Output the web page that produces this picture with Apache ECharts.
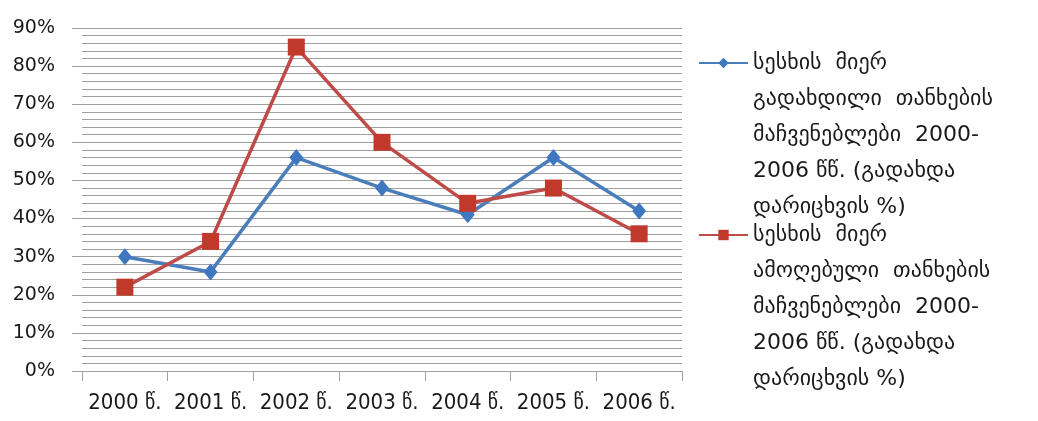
<!DOCTYPE html>
<html>
<head>
<meta charset="utf-8">
<script src="https://cdn.jsdelivr.net/npm/echarts@6/dist/echarts.min.js"></script>
<style>
  html, body { margin: 0; padding: 0; background: #fff; }
  #chart { width: 1038px; height: 421px; }
</style>
</head>
<body>
<div id="chart"></div>
<script>
// Years on the category axis
const years = ['2000 წ.', '2001 წ.', '2002 წ.', '2003 წ.', '2004 წ.', '2005 წ.', '2006 წ.'];

// Series names (legend text, wrapped line by line)
const paidName = 'სესხის  მიერ\nგადახდილი  თანხების\nმაჩვენებლები  2000-\n2006 წწ. (გადახდა\nდარიცხვის %)';
const collectedName = 'სესხის  მიერ\nამოღებული  თანხების\nმაჩვენებლები  2000-\n2006 წწ. (გადახდა\nდარიცხვის %)';

// Values, percent
const paidValues = [30, 26, 56, 48, 41, 56, 42];
const collectedValues = [22, 34, 85, 60, 44, 48, 36];

// Y axis range, percent
const yMin = 0, yMax = 90, yStep = 10;

const GRID_GRAY = '#a0a0a0';
const LEGEND_LINE = 36;
const LEGEND_ROWS = 9; // 4 blank rows + 5 text rows, so the icon sits beside row 1

const chart = echarts.init(document.getElementById('chart'), null, { renderer: 'canvas' });

chart.setOption({
  animation: false,
  backgroundColor: '#ffffff',
  grid: { left: 82, right: 356, top: 28, bottom: 50, containLabel: false, outerBoundsMode: 'none' },
  legend: {
    orient: 'vertical',
    left: 698,
    top: 63 - (LEGEND_LINE * LEGEND_ROWS) / 2,
    padding: 0,
    itemWidth: 49,
    itemHeight: 13,
    itemGap: 172 - LEGEND_LINE * LEGEND_ROWS,
    selectedMode: false,
    formatter: function (name) { return '\n\n\n\n' + name; },
    textStyle: {
      fontFamily: 'DejaVu Sans',
      fontSize: 22,
      color: '#1a1a1a',
      lineHeight: LEGEND_LINE
    },
    data: [paidName, collectedName]
  },
  xAxis: {
    type: 'category',
    data: years,
    boundaryGap: true,
    axisLine: { show: true, lineStyle: { color: GRID_GRAY, width: 1 } },
    axisTick: { show: true, length: 10, lineStyle: { color: GRID_GRAY } },
    axisLabel: {
      margin: 21,
      interval: 0,
      fontFamily: '"Liberation Sans Narrow", "DejaVu Sans Condensed", "Liberation Sans", "DejaVu Sans"',
      fontSize: 22,
      color: '#1a1a1a'
    },
    splitLine: { show: false }
  },
  yAxis: {
    type: 'value',
    min: yMin,
    max: yMax,
    interval: yStep,
    axisLine: { show: false },
    axisTick: { show: true, length: 10, lineStyle: { color: GRID_GRAY } },
    axisLabel: {
      margin: 27,
      formatter: '{value}%',
      fontFamily: 'DejaVu Sans',
      fontSize: 19,
      color: '#1a1a1a'
    },
    splitLine: { show: true, lineStyle: { color: GRID_GRAY, width: 1 } },
    minorTick: { show: false, splitNumber: 5 },
    minorSplitLine: { show: true, lineStyle: { color: GRID_GRAY, width: 1 } }
  },
  series: [
    {
      name: paidName,
      type: 'line',
      data: paidValues,
      symbol: 'diamond',
      symbolSize: [14, 17],
      lineStyle: { color: '#4A7EBB', width: 3.5 },
      itemStyle: { color: '#3F78C0' },
      z: 3
    },
    {
      name: collectedName,
      type: 'line',
      data: collectedValues,
      symbol: 'rect',
      symbolSize: 17,
      lineStyle: { color: '#BE4B48', width: 3.5 },
      itemStyle: { color: '#C0392B' },
      z: 4
    }
  ]
});
</script>
</body>
</html>
